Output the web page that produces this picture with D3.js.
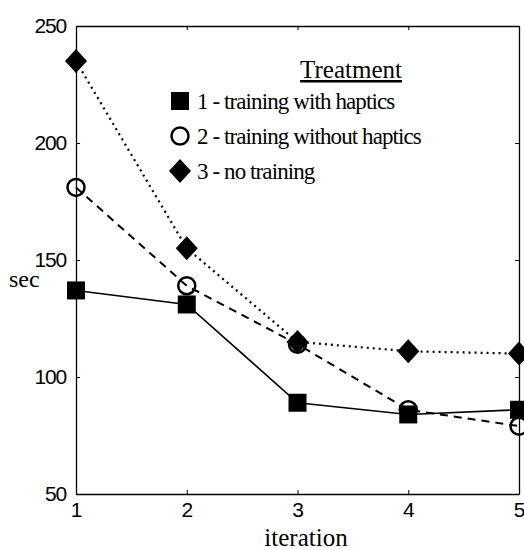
<!DOCTYPE html>
<html><head><meta charset="utf-8">
<script src="https://cdn.jsdelivr.net/npm/d3@7"></script>
<style>body{margin:0;background:#fff}svg{display:block}</style>
</head><body>
<script>
const iterations = [1, 2, 3, 4, 5];
const withHaptics = [137, 131, 89, 84, 86];
const withoutHaptics = [181, 139, 114, 86, 79];
const noTraining = [235, 155, 115, 111, 110];
const yTicks = [50, 100, 150, 200, 250];
const seriesNames = ["1 - training with haptics", "2 - training without haptics", "3 - no training"];

const W = 524, H = 550;
const m = {left: 76, right: 5, top: 26, bottom: 56};
const svg = d3.select("body").append("svg").attr("width", W).attr("height", H);
const x = d3.scaleLinear().domain([1, 5]).range([m.left, W - m.right]);
const y = d3.scaleLinear().domain([50, 250]).range([H - m.bottom, m.top]);

// box with inward ticks
const g = svg.append("g");
g.append("g").attr("transform", `translate(0,${y(50)})`)
  .call(d3.axisBottom(x).tickValues(iterations).tickFormat(d3.format("d")).tickSizeInner(-4).tickSizeOuter(0).tickPadding(8))
  .call(a => a.selectAll("text").attr("font-family", "Liberation Sans, Arial, sans-serif").attr("font-size", 21).attr("fill", "#000"));
g.append("g").attr("transform", `translate(0,${y(250)})`)
  .call(d3.axisTop(x).tickValues(iterations).tickFormat("").tickSizeInner(-4).tickSizeOuter(0));
g.append("g").attr("transform", `translate(${x(1)},0)`)
  .call(d3.axisLeft(y).tickValues(yTicks).tickFormat(d3.format("d")).tickSizeInner(-4).tickSizeOuter(0).tickPadding(10))
  .call(a => a.selectAll("text").attr("font-family", "Liberation Sans, Arial, sans-serif").attr("font-size", 21).attr("fill", "#000").attr("letter-spacing", -1.2));
g.append("g").attr("transform", `translate(${x(5)},0)`)
  .call(d3.axisRight(y).tickValues(yTicks).tickFormat("").tickSizeInner(-4).tickSizeOuter(0));
g.selectAll(".domain").attr("stroke", "#000").attr("stroke-width", 1.3);
g.selectAll(".tick line").attr("stroke", "#000");

const line = d3.line().x((d, i) => x(iterations[i])).y(d => y(d));
const series = [
  {vals: withHaptics, dash: null, sw: 1.6, marker: "square"},
  {vals: withoutHaptics, dash: "8,6", sw: 2, marker: "circle"},
  {vals: noTraining, dash: "2,4", sw: 2.2, marker: "diamond"}
];
series.forEach(s => {
  svg.append("path").attr("d", line(s.vals)).attr("fill", "none").attr("stroke", "#000")
    .attr("stroke-width", s.sw).attr("stroke-dasharray", s.dash).attr("stroke-linecap", "butt");
});
function marker(sel, type, cx, cy) {
  if (type === "square") sel.append("rect").attr("x", cx - 9).attr("y", cy - 9).attr("width", 18).attr("height", 18).attr("fill", "#000");
  else if (type === "circle") sel.append("circle").attr("cx", cx).attr("cy", cy).attr("r", 8.5).attr("fill", "none").attr("stroke", "#000").attr("stroke-width", 2.5);
  else sel.append("path").attr("d", `M${cx},${cy - 12}L${cx + 11},${cy}L${cx},${cy + 12}L${cx - 11},${cy}Z`).attr("fill", "#000");
}
series.forEach(s => s.vals.forEach((v, i) => marker(svg, s.marker, x(iterations[i]), y(v))));

// axis labels
svg.append("text").attr("x", 306).attr("y", 546).attr("text-anchor", "middle")
  .attr("font-family", "Liberation Serif, Times New Roman, serif").attr("font-size", 25).text("iteration");
svg.append("text").attr("x", 9).attr("y", 287)
  .attr("font-family", "Liberation Serif, Times New Roman, serif").attr("font-size", 24).text("sec");

// legend
const lg = svg.append("g").attr("font-family", "Liberation Serif, Times New Roman, serif").attr("font-size", 23);
lg.append("text").attr("x", 351).attr("y", 78).attr("text-anchor", "middle").attr("font-size", 25)
  .attr("text-decoration", "underline").text("Treatment");
["square", "circle", "diamond"].forEach((t, i) => {
  const cy = 101 + i * 35;
  marker(lg, t, 180, cy);
  lg.append("text").attr("x", 197).attr("y", cy + 8).attr("letter-spacing", -0.9).text(seriesNames[i]);
});
</script>
</body></html>
